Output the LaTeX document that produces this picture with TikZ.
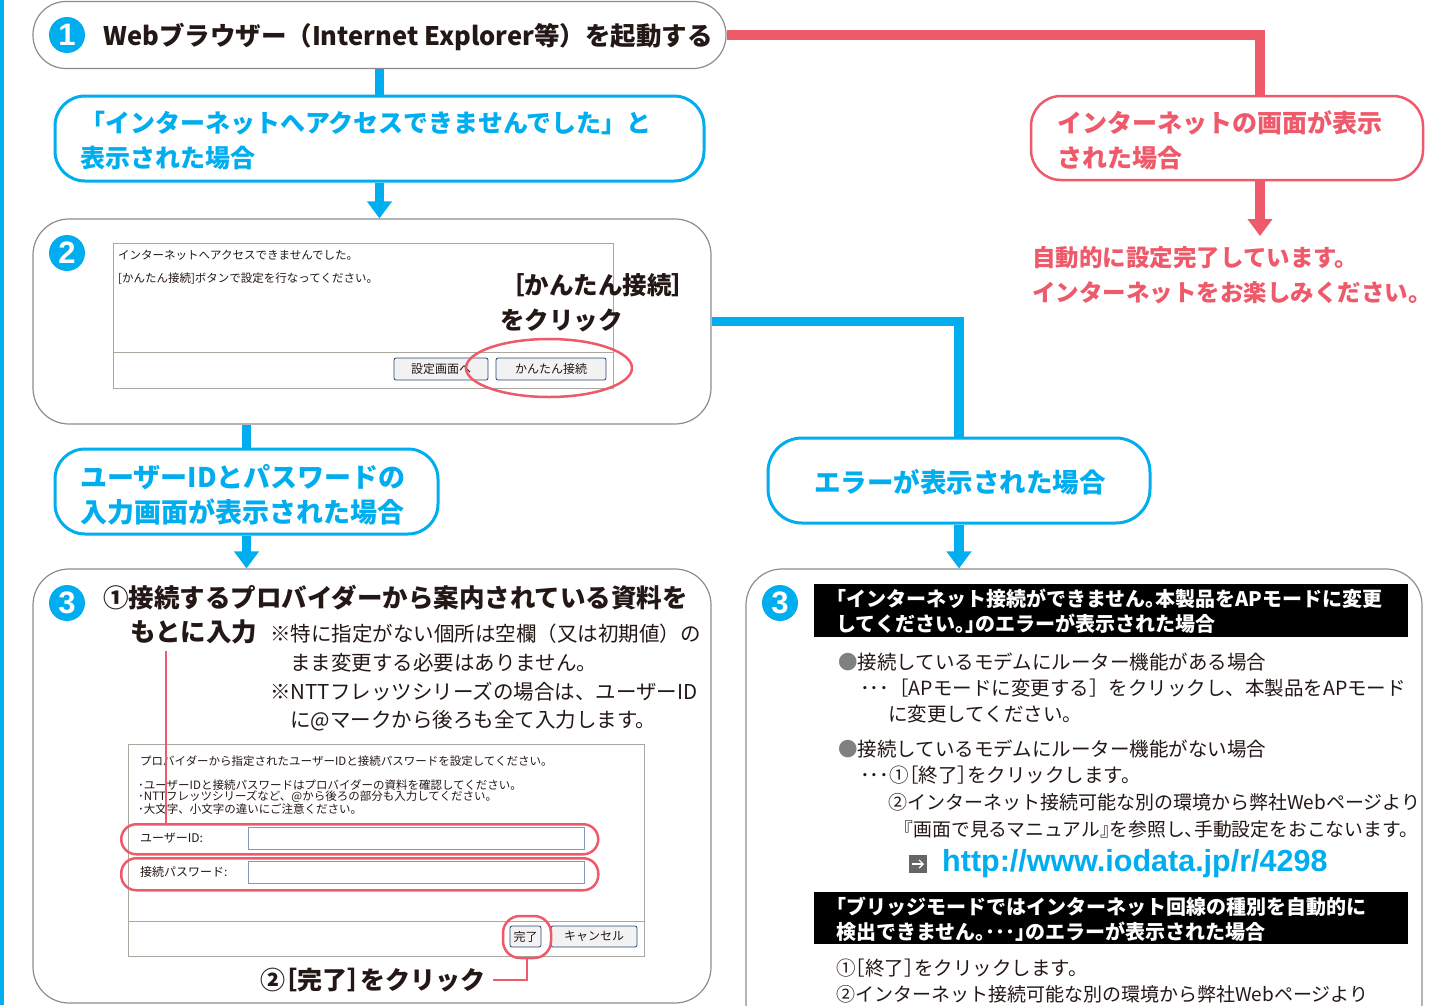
\documentclass[tikz,border=0pt]{standalone}
\usepackage{fontspec}
\setmainfont{Noto Sans CJK JP}
\newfontfamily\latinbold{Liberation Sans}
\usetikzlibrary{arrows.meta,shapes.geometric}
\definecolor{cy}{RGB}{0,174,239}
\definecolor{rd}{RGB}{238,90,106}
\definecolor{gb}{RGB}{140,140,140}
\definecolor{tx}{RGB}{35,24,21}
\definecolor{scr}{RGB}{170,168,158}
\definecolor{btn}{RGB}{40,70,120}
\definecolor{inp}{RGB}{127,157,185}
\newcommand\hdfont{\fontsize{25}{35}\selectfont\bfseries}
\newcommand\bdfont{\fontsize{19.5}{26.5}\selectfont}
\newcommand\ntfont{\fontsize{20.5}{29}\selectfont}
\newcommand\smfont{\fontsize{11.5}{12}\selectfont}
\newcommand\hw{\addfontfeature{RawFeature=+halt}}
\tikzset{
  gbox/.style={draw=gb,line width=1.2pt,fill=white,inner sep=0pt},
  cbox/.style={draw=cy,line width=3pt,fill=white,inner sep=0pt,rounded corners=30pt},
  rbox/.style={draw=rd,line width=2.5pt,fill=white,inner sep=0pt,rounded corners=30pt},
  cline/.style={draw=cy,line width=9.5pt},
  rline/.style={draw=rd,line width=9.5pt},
  carrow/.style={cline,-{Triangle[width=24pt,length=17pt]}},
  rarrow/.style={rline,-{Triangle[width=24pt,length=17pt]}},
  rthin/.style={draw=rd,line width=2.5pt},
  badge/.style={circle,fill=cy,minimum size=36pt,inner sep=0pt,text=white,font=\latinbold\fontsize{31}{31}\selectfont\bfseries},
  txt/.style={inner sep=0pt,anchor=west,text=tx,align=left},
  scrbox/.style={draw=scr,line width=1pt,fill=white},
  button/.style={draw=btn,line width=0.8pt,fill=black!5,rounded corners=2pt,inner sep=0pt,font=\fontsize{12}{12}\selectfont,text=tx},
  field/.style={draw=inp,line width=0.8pt,fill=white},
  redring/.style={draw=rd,line width=2.5pt,rounded corners=15pt,inner sep=0pt},
}
\begin{document}
\begin{tikzpicture}[x=1pt,y=-1pt]
\useasboundingbox (0,0) rectangle (1436,1005);
\clip (0,0) rectangle (1436,1005);
\fill[cy] (0,0) rectangle (4,1005);

% ---------- boxes ----------
\node[gbox,minimum width=693pt,minimum height=67pt,rounded corners=33pt] (b1) at (379.5,35) {};
\node[cbox,minimum width=649pt,minimum height=85pt] (A) at (379.5,138.5) {};
\node[gbox,minimum width=678pt,minimum height=205pt,rounded corners=36pt] (b2) at (372,321.5) {};
\node[rbox,minimum width=392pt,minimum height=84pt] (B) at (1227,138) {};
\node[cbox,minimum width=382pt,minimum height=85pt,rounded corners=34pt] (C) at (959,480.5) {};
\node[cbox,minimum width=383pt,minimum height=85pt] (D) at (246.5,491.5) {};
\node[gbox,minimum width=678pt,minimum height=434pt,rounded corners=36pt] (b3l) at (372,786) {};
\node[gbox,minimum width=676pt,minimum height=480pt,rounded corners=36pt] (b3r) at (1084,809) {};

% ---------- connectors ----------
\draw[cline] (b1.south) -- (A.north);
\draw[carrow] (A.south) -- (A.south |- b2.north);
\draw[cline] (b2.south -| D.north) -- (D.north);
\draw[carrow] (D.south) -- (D.south |- b3l.north);
\draw[cline] (b2.east) -- (b2.east -| C.north) -- (C.north);
\draw[carrow] (C.south) -- (C.south |- b3r.north);
\coordinate (rx) at (1260,138);
\coordinate (rend) at (1260,236);
\draw[rline] (b1.east) -- (b1.east -| rx) -- (rx |- B.north);
\draw[rarrow] (B.south -| rx) -- (rend);

% ---------- step 1 ----------
\node[badge] (n1) at (67,35) {1};
\node[txt,font=\hdfont\fontsize{25.5}{30}\selectfont] (t1) at (103,37) {Webブラウザー（Internet Explorer等）を起動する};

% ---------- condition boxes ----------
\node[txt,font=\hdfont,text=cy] (tA) at (80,140.5) {「インターネットへアクセスできませんでした」と\\表示された場合};
\node[txt,font=\hdfont,text=rd] (tB) at (1057,140.5) {インターネットの画面が表示\\された場合};
\node[txt,font=\hdfont\fontsize{23.5}{34.5}\selectfont\hw,text=rd] (tR) at (1032,275) {自動的に設定完了しています。\\インターネットをお楽しみください。};
\node[inner sep=0pt,font=\hdfont\fontsize{26.5}{30}\selectfont,text=cy] (tC) at (960,482) {エラーが表示された場合};
\node[txt,font=\hdfont\fontsize{27}{35}\selectfont,text=cy] (tD) at (80,494.5) {ユーザーIDとパスワードの\\入力画面が表示された場合};

% ---------- step 2 ----------
\node[badge] (n2) at (67,253) {2};
\node[scrbox,minimum width=500pt,minimum height=145pt,anchor=north west,inner sep=0pt] (s2) at (113,243) {};
\draw[draw=scr,line width=1pt] (s2.west |- 0,352) -- (s2.east |- 0,352);
\node[txt,font=\smfont] (s2a) at (118,255) {インターネットへアクセスできませんでした。};
\node[txt,font=\smfont] (s2b) at (118,279) {[かんたん接続]ボタンで設定を行なってください。};
\node[button,minimum width=94pt,minimum height=22pt] (bt1) at (441,369) {設定画面へ};
\node[button,minimum width=110pt,minimum height=22pt] (bt2) at (551,369) {かんたん接続};
\node[ellipse,draw=rd,line width=2.5pt,minimum width=166pt,minimum height=58pt,inner sep=0pt] (e2) at (549,368) {};
\node[txt,font=\hdfont\fontsize{24.5}{35}\selectfont] (t2) at (500,302.5) {［かんたん接続］\\をクリック};

% ---------- step 3 left ----------
\node[badge] (n3) at (67,603) {3};
\node[txt,font=\hdfont\fontsize{25.5}{34}\selectfont] (t3a) at (103,598) {①接続するプロバイダーから案内されている資料を};
\node[txt,font=\hdfont\fontsize{25.5}{34}\selectfont] (t3b) at (130,632) {もとに入力};
\node[txt,font=\ntfont] (t3c) at (270,634) {※特に指定がない個所は空欄（又は初期値）の};
\node[txt,font=\ntfont] (t3d) at (290,663) {まま変更する必要はありません。};
\node[txt,font=\ntfont] (t3e) at (270,692) {※NTTフレッツシリーズの場合は、ユーザーID};
\node[txt,font=\ntfont] (t3f) at (290,721) {に@マークから後ろも全て入力します。};

\node[scrbox,minimum width=516pt,minimum height=212pt,anchor=north west,inner sep=0pt] (s3) at (128,744) {};
\draw[draw=scr,line width=1pt] (s3.west |- 0,921) -- (s3.east |- 0,921);
\node[txt,font=\smfont] (s3a) at (140,761) {プロバイダーから指定されたユーザーIDと接続パスワードを設定してください。};
\node[txt,font=\smfont] (s3b) at (138,785) {･ユーザーIDと接続パスワードはプロバイダーの資料を確認してください。};
\node[txt,font=\smfont] (s3c) at (138,797) {･NTTフレッツシリーズなど、@から後ろの部分も入力してください。};
\node[txt,font=\smfont] (s3d) at (138,809) {･大文字、小文字の違いにご注意ください。};
\node[txt,font=\fontsize{12}{12}\selectfont] (s3e) at (140,838) {ユーザーID:};
\node[txt,font=\fontsize{12}{12}\selectfont] (s3f) at (140,872) {接続パスワード:};
\node[field,minimum width=336pt,minimum height=22pt,anchor=north west,inner sep=0pt] (f1in) at (248,827) {};
\node[field,minimum width=336pt,minimum height=22pt,anchor=north west,inner sep=0pt] (f2in) at (248,861) {};
\node[redring,minimum width=477pt,minimum height=30pt,anchor=north west] (f1) at (120,823) {};
\node[redring,minimum width=477pt,minimum height=32pt,anchor=north west] (f2) at (120,857) {};
\node[button,minimum width=31pt,minimum height=21pt] (bt3) at (525.5,936.5) {完了};
\node[button,minimum width=86pt,minimum height=21pt] (bt4) at (594,936.5) {キャンセル};
\node[redring,minimum width=48pt,minimum height=42pt,rounded corners=17pt] (fc) at (527,937) {};
\node[txt,font=\hdfont\fontsize{25}{30}\selectfont\hw] (t3g) at (260,980) {②［完了］をクリック};
\coordinate (lnA) at (166,651);
\draw[rthin] (lnA) -- (lnA |- f1.north);
\draw[rthin] (fc.south) -- (fc.south |- t3g.east) -- ([xshift=8pt]t3g.east);

% ---------- step 3 right ----------
\node[badge] (n4) at (780,603) {3};
\node[fill=black,minimum width=594pt,minimum height=53pt,anchor=north west,inner sep=0pt] (bar1) at (814,584) {};
\node[txt,text=white,font=\bfseries\fontsize{20}{25}\selectfont\hw] (bt1t) at (836,611) {「インターネット接続ができません。本製品をAPモードに変更\\してください。」のエラーが表示された場合};
\node[txt,font=\bdfont] (r1) at (838,662) {{\color{gray}●}接続しているモデムにルーター機能がある場合};
\node[txt,font=\bdfont] (r2) at (860,688) {･･･［APモードに変更する］をクリックし、本製品をAPモード};
\node[txt,font=\bdfont] (r3) at (888,714) {に変更してください。};
\node[txt,font=\bdfont] (r4) at (838,749) {{\color{gray}●}接続しているモデムにルーター機能がない場合};
\node[txt,font=\bdfont\hw] (r5) at (860,775) {･･･①［終了］をクリックします。};
\node[txt,font=\fontsize{19}{26.5}\selectfont] (r6) at (888,802) {②インターネット接続可能な別の環境から弊社Webページより};
\node[txt,font=\fontsize{18.8}{26.5}\selectfont\hw] (r7) at (904,829) {『画面で見るマニュアル』を参照し、手動設定をおこないます。};
\node[fill=black!60,minimum size=18pt,inner sep=0pt] (ic) at (918,864) {};
\draw[white,line width=1.2pt,-{Straight Barb[length=4pt,width=8pt]}] ([xshift=-6pt]ic.center) -- ([xshift=6pt]ic.center);
\node[txt,text=cy,font=\latinbold\bfseries\fontsize{30.5}{32}\selectfont] (url) at (942,864) {http://www.iodata.jp/r/4298};
\node[fill=black,minimum width=594pt,minimum height=52pt,anchor=north west,inner sep=0pt] (bar2) at (814,892) {};
\node[txt,text=white,font=\bfseries\fontsize{20}{25}\selectfont\hw] (bt2t) at (836,919) {「ブリッジモードではインターネット回線の種別を自動的に\\検出できません。･･･」のエラーが表示された場合};
\node[txt,font=\bdfont\hw] (r8) at (836,968) {①［終了］をクリックします。};
\node[txt,font=\fontsize{19}{26.5}\selectfont] (r9) at (836,994) {②インターネット接続可能な別の環境から弊社Webページより};
\end{tikzpicture}
\end{document}
